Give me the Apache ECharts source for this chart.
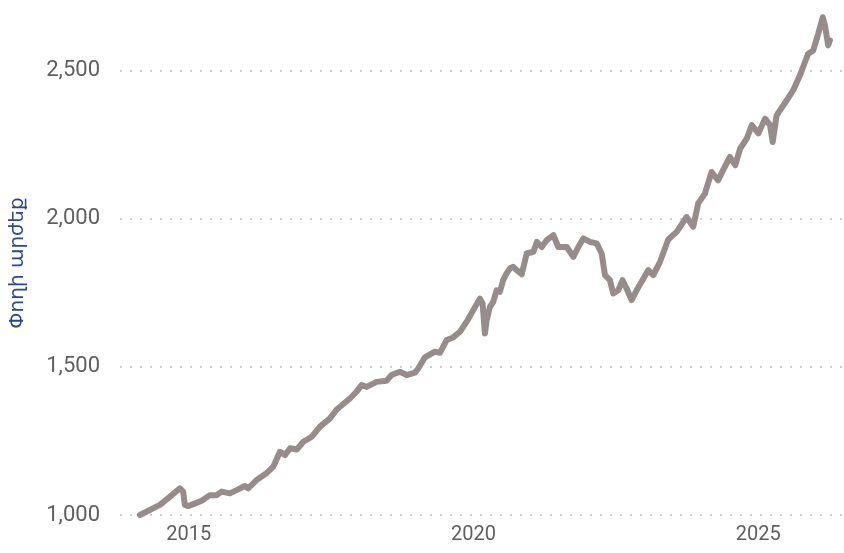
<!DOCTYPE html>
<html>
  <head>
    <meta charset="utf-8" />
    <script src="https://cdn.jsdelivr.net/npm/echarts@6.0.0/dist/echarts.min.js"></script>
    <style>
      html, body { margin: 0; padding: 0; background: #fff; }
    </style>
  </head>
  <body>
    <div id="main" style="width: 844px;height:553px;"></div>
    <script type="text/javascript">
      // ամսաթվեր և արժեքներ (կարդացված նկարից)
      var dates = [
        '2014-02-22', '2014-06-30', '2014-09-03', '2014-11-05', '2014-11-26', '2014-12-07', '2014-12-28',
        '2015-02-21', '2015-03-25', '2015-05-17', '2015-06-29', '2015-07-31', '2015-09-22', '2015-11-04', '2015-12-27',
        '2016-01-17', '2016-03-11', '2016-05-14', '2016-06-26', '2016-08-08', '2016-09-09', '2016-10-12', '2016-11-24',
        '2017-01-05', '2017-02-28', '2017-04-22', '2017-06-25', '2017-08-07', '2017-10-31', '2017-12-13',
        '2018-01-14', '2018-02-15', '2018-04-20', '2018-06-23', '2018-07-25', '2018-09-17', '2018-10-30', '2018-12-22',
        '2019-01-12', '2019-02-24', '2019-04-29', '2019-05-31', '2019-07-13', '2019-08-24', '2019-10-07', '2019-11-19', '2019-12-31',
        '2020-02-12', '2020-02-29', '2020-03-15', '2020-03-26', '2020-04-16', '2020-05-07', '2020-05-29', '2020-06-19',
        '2020-07-10', '2020-08-01', '2020-08-23', '2020-09-13', '2020-10-05', '2020-11-06', '2020-12-08',
        '2021-01-20', '2021-02-11', '2021-03-14', '2021-04-15', '2021-05-28', '2021-06-29', '2021-08-22', '2021-10-03', '2021-11-04', '2021-12-06',
        '2022-01-18', '2022-03-02', '2022-04-03', '2022-04-24', '2022-05-26', '2022-06-16', '2022-07-18', '2022-08-15', '2022-09-10', '2022-10-12', '2022-11-13', '2022-12-15',
        '2023-01-27', '2023-02-28', '2023-04-12', '2023-06-04', '2023-07-28', '2023-09-30', '2023-11-11', '2023-12-13',
        '2024-01-25', '2024-03-08', '2024-04-19', '2024-05-21', '2024-07-03', '2024-08-07', '2024-09-07', '2024-10-20', '2024-11-21',
        '2025-01-02', '2025-02-14', '2025-03-18', '2025-04-04', '2025-04-29', '2025-07-03', '2025-08-14', '2025-09-26', '2025-10-28', '2025-11-18', '2025-12-20',
        '2026-01-21', '2026-02-19', '2026-03-05', '2026-03-26', '2026-04-06'
      ];
      var values = [
        1000, 1034, 1062, 1090, 1079, 1034, 1030,
        1041, 1048, 1067, 1067, 1079, 1073, 1084, 1098,
        1090, 1118, 1141, 1163, 1213, 1202, 1225, 1221,
        1247, 1264, 1298, 1326, 1356, 1393, 1416,
        1438, 1432, 1449, 1453, 1472, 1483, 1472, 1480,
        1494, 1532, 1551, 1547, 1590, 1599, 1618, 1652, 1691,
        1730, 1713, 1612, 1657, 1702, 1719, 1758, 1753,
        1792, 1815, 1832, 1837, 1826, 1812, 1882,
        1888, 1921, 1904, 1927, 1944, 1904, 1904, 1871, 1904, 1933,
        1921, 1916, 1882, 1809, 1792, 1747, 1758, 1792, 1764, 1725, 1758, 1787,
        1826, 1809, 1854, 1929, 1955, 2005, 1972, 2051,
        2084, 2157, 2129, 2163, 2208, 2180, 2236, 2270, 2315,
        2287, 2337, 2315, 2258, 2348, 2399, 2433, 2483, 2528, 2556, 2567,
        2623, 2679, 2652, 2584, 2601
      ];
      var yearTicks = ['2015-01-01', '2020-01-01', '2025-01-01'];

      var myChart = echarts.init(document.getElementById('main'));

      var seriesData = dates.map(function (d, i) {
        return [d, values[i]];
      });

      option = {
        animation: false,
        grid: {
          left: 120,
          right: 1,
          top: 11,
          bottom: 38,
          outerBoundsMode: 'none'
        },
        xAxis: {
          type: 'time',
          min: '2013-10-17',
          max: '2026-06-29',
          axisLine: { show: false },
          axisTick: { show: false },
          splitLine: { show: false },
          axisLabel: {
            customValues: yearTicks.map(function (d) { return echarts.time.parse(d).getTime(); }),
            formatter: '{yyyy}',
            color: '#5f5f5f',
            fontFamily: 'Roboto',
            fontSize: 20,
            margin: 10
          }
        },
        yAxis: {
          type: 'value',
          min: 1000,
          max: 2700,
          interval: 500,
          name: 'Փողի արժեք',
          nameLocation: 'middle',
          nameGap: 92,
          nameTextStyle: {
            color: '#2b4a8b',
            fontFamily: 'DejaVu Sans',
            fontSize: 20
          },
          axisLine: { show: false },
          axisTick: { show: false },
          axisLabel: {
            showMaxLabel: false,
            color: '#5f5f5f',
            fontFamily: 'Roboto',
            fontSize: 22,
            margin: 20,
            formatter: function (v) { return v.toLocaleString('en-US'); }
          },
          splitLine: {
            show: true,
            showMaxLine: false,
            lineStyle: { color: '#cfcfcf', width: 2, type: [2, 8] }
          }
        },
        series: [
          {
            type: 'line',
            data: seriesData,
            showSymbol: false,
            lineStyle: { color: '#968c8c', width: 6, join: 'round', cap: 'round' },
            itemStyle: { color: '#968c8c' }
          }
        ]
      };

      myChart.setOption(option);
    </script>
  </body>
</html>
